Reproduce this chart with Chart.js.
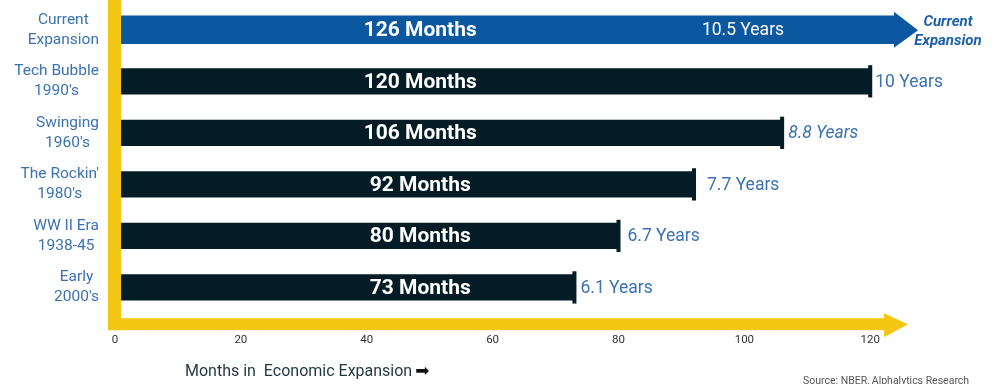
<!DOCTYPE html>
<html>
<head>
<meta charset="utf-8">
<script src="https://cdn.jsdelivr.net/npm/chart.js@4"></script>
<style>
  html, body { margin: 0; padding: 0; background: #fff; }
</style>
</head>
<body>
<canvas id="chart" width="997" height="384"></canvas>
<script>
// data
const categories = [
  ["Current", "Expansion"],
  ["Tech Bubble", "1990's"],
  ["Swinging", "1960's"],
  ["The Rockin'", "1980's"],
  ["WW II Era", "1938-45"],
  ["Early", "2000's"]
];
const months = [126, 120, 106, 92, 80, 73];
const yearLabels = ["10.5 Years", "10 Years", "8.8 Years", "7.7 Years", "6.7 Years", "6.1 Years"];
const xTicks = [0, 20, 40, 60, 80, 100, 120];

// styles
const BLUE = "#0b57a0";
const DARK = "#031c26";
const YELLOW = "#f2c814";
const LABEL_BLUE = "#3a72b3";
const yearGap = [0, 3, 4, 11, 7, 4];
const FONT = "Roboto, 'Noto Sans', sans-serif";

const currentData = months.map((v, i) => i === 0 ? v : null);
const pastData = months.map((v, i) => i === 0 ? null : v);

const decor = {
  id: "decor",
  beforeDatasetDraw(chart, args) {
    if (args.index !== 0) return;
    const bar = chart.getDatasetMeta(0).data[0];
    const ctx = chart.ctx;
    ctx.save();
    ctx.beginPath();
    ctx.rect(0, 0, bar.x - 14, chart.height);
    ctx.clip();
  },
  afterDatasetDraw(chart, args) {
    if (args.index !== 0) return;
    const ctx = chart.ctx;
    ctx.restore();
    const bar = chart.getDatasetMeta(0).data[0];
    ctx.save();
    ctx.fillStyle = BLUE;
    ctx.beginPath();
    ctx.moveTo(bar.x - 14, bar.y - 18);
    ctx.lineTo(bar.x + 10, bar.y + 0.5);
    ctx.lineTo(bar.x - 14, bar.y + 18);
    ctx.closePath();
    ctx.fill();
    ctx.restore();
  },
  afterDatasetsDraw(chart) {
    const ctx = chart.ctx;
    const xs = chart.scales.x;
    const area = chart.chartArea;
    const x0 = xs.getPixelForValue(0);
    ctx.save();

    // end caps on the past expansions
    const past = chart.getDatasetMeta(1).data;
    ctx.fillStyle = DARK;
    past.forEach((bar, i) => {
      if (pastData[i] == null) return;
      ctx.fillRect(bar.x - 2, bar.y - bar.height / 2 - 3, 4, bar.height + 6);
    });

    // yellow axes
    ctx.fillStyle = YELLOW;
    const yAx = area.bottom + 11;
    ctx.fillRect(x0 - 7, 0, 13, yAx + 6);
    ctx.fillRect(x0 - 7, yAx - 6, area.right - 20 - x0 + 7, 12);
    ctx.beginPath();
    ctx.moveTo(area.right - 24, yAx - 11);
    ctx.lineTo(area.right, yAx);
    ctx.lineTo(area.right - 24, yAx + 13);
    ctx.closePath();
    ctx.fill();

    // month labels inside bars
    const all = [chart.getDatasetMeta(0).data[0]].concat(past.slice(1));
    const midX = xs.getPixelForValue(48.5);
    ctx.textBaseline = "middle";
    all.forEach((bar, i) => {
      ctx.fillStyle = "#ffffff";
      ctx.textAlign = "center";
      ctx.font = "bold 21px " + FONT;
      ctx.fillText(months[i] + " Months", midX, bar.y + 1);
      if (i === 0) {
        ctx.font = "17.5px " + FONT;
        ctx.fillText(yearLabels[i], 743, bar.y + 1);
      } else {
        ctx.fillStyle = LABEL_BLUE;
        ctx.textAlign = "left";
        ctx.font = (i === 2 ? "italic " : "") + "17.5px " + FONT;
        ctx.fillText(yearLabels[i], bar.x + 2 + yearGap[i], bar.y + 1);
      }
    });

    // "Current Expansion" tag beside the arrow
    const cur = chart.getDatasetMeta(0).data[0];
    ctx.fillStyle = "#1f5fa8";
    ctx.textAlign = "center";
    ctx.font = "italic bold 15px " + FONT;
    ctx.fillText("Current", 948, cur.y - 8);
    ctx.fillText("Expansion", 948, cur.y + 11);

    // category labels: block right-aligned, lines centred
    const ys = chart.scales.y;
    ctx.fillStyle = LABEL_BLUE;
    ctx.font = "15.5px " + FONT;
    categories.forEach((lines, i) => {
      const cy = ys.getPixelForValue(i);
      const w = Math.max(...lines.map(l => ctx.measureText(l).width));
      const cx = 99 - w / 2;
      lines.forEach((l, k) => {
        ctx.fillText(l, cx, cy + (k - (lines.length - 1) / 2) * 20);
      });
    });

    // axis title and source
    ctx.textAlign = "left";
    ctx.fillStyle = "#1d3641";
    ctx.font = "16px " + FONT;
    const t = "Months in  Economic Expansion ";
    ctx.fillText(t, 185, 372);
    const tw = ctx.measureText(t).width;
    ctx.font = "17px 'DejaVu Sans', sans-serif";
    ctx.fillStyle = "#111";
    ctx.fillText("\u27A1", 184 + tw, 372);

    ctx.fillStyle = "#555";
    ctx.font = "10.5px " + FONT;
    ctx.textBaseline = "top";
    ctx.fillText("Source: NBER, Alphalytics Research", 803, 376);
    ctx.restore();
  }
};

new Chart(document.getElementById("chart"), {
  type: "bar",
  data: {
    labels: categories,
    datasets: [
      {
        label: "Current",
        data: currentData,
        backgroundColor: BLUE,
        barPercentage: 0.55,
        categoryPercentage: 1,
        grouped: false
      },
      {
        label: "Past",
        data: pastData,
        backgroundColor: DARK,
        barPercentage: 0.51,
        categoryPercentage: 1,
        grouped: false
      }
    ]
  },
  options: {
    indexAxis: "y",
    responsive: false,
    animation: false,
    layout: { padding: { left: 115, right: 89, top: 4, bottom: 17 } },
    plugins: {
      legend: { display: false },
      tooltip: { enabled: false }
    },
    scales: {
      x: {
        type: "linear",
        min: 0,
        max: 126,
        afterBuildTicks: (scale) => { scale.ticks = xTicks.map(v => ({ value: v })); },
        grid: { display: false, drawTicks: false },
        border: { display: false },
        ticks: {
          color: "#333",
          font: { family: FONT, size: 11.5 },
          padding: 20,
          maxRotation: 0
        }
      },
      y: {
        type: "category",
        display: false
      }
    }
  },
  plugins: [decor]
});
</script>
</body>
</html>
